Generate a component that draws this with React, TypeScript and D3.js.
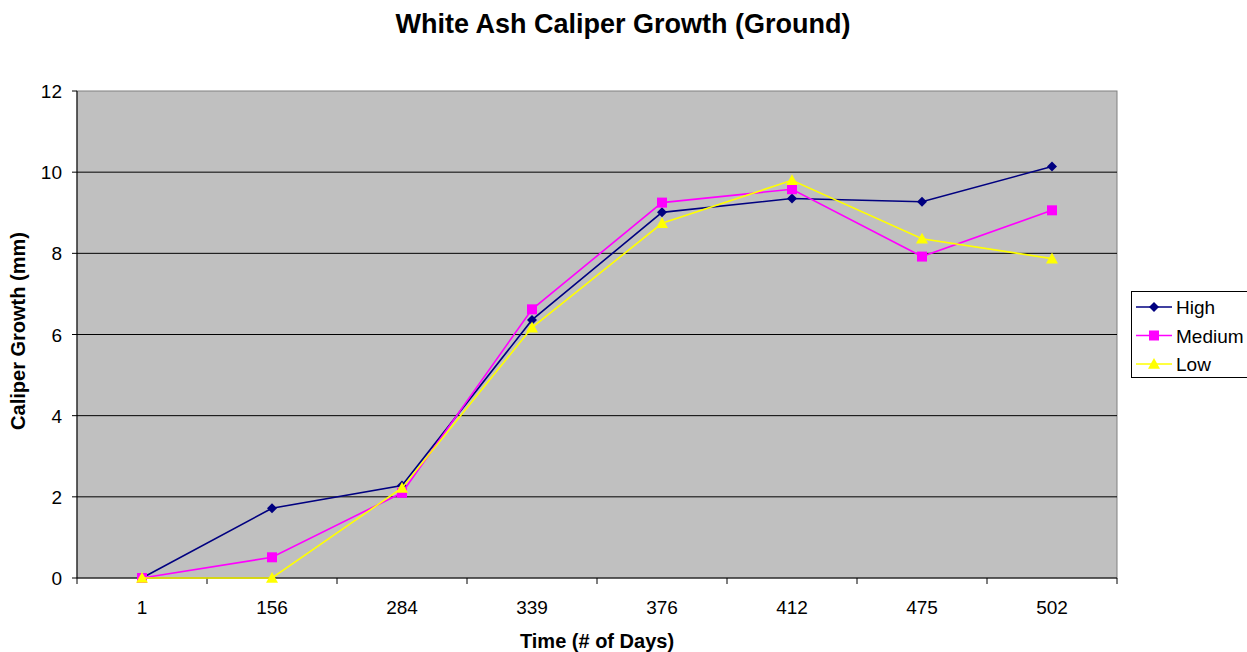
import React from "react";
import * as d3 from "d3";

const categories = ["1", "156", "284", "339", "376", "412", "475", "502"];
const highValues = [0, 1.72, 2.28, 6.36, 9.01, 9.35, 9.27, 10.14];
const mediumValues = [0, 0.51, 2.1, 6.62, 9.25, 9.58, 7.92, 9.06];
const lowValues = [0, 0, 2.22, 6.17, 8.74, 9.8, 8.36, 7.87];
const yTicks = [0, 2, 4, 6, 8, 10, 12];
const seriesNames = ["High", "Medium", "Low"];

const W = 1247, H = 652;
const left = 77, right = 1117, top = 91, bottom = 578;
const font = "'Liberation Sans', Arial, sans-serif";

function Marker({ type, x, y, color }: { type: string; x: number; y: number; color: string }) {
  if (type === "diamond") {
    const s = 5;
    return <path d={`M${x},${y - s}L${x + s},${y}L${x},${y + s}L${x - s},${y}Z`} fill={color} />;
  }
  if (type === "square") {
    const s = 5;
    return <rect x={x - s} y={y - s} width={2 * s} height={2 * s} fill={color} />;
  }
  const s = 6;
  return <path d={`M${x},${y - s}L${x + s},${y + s * 0.8}L${x - s},${y + s * 0.8}Z`} fill={color} />;
}

export default function App() {
  const x = d3.scaleBand<string>().domain(categories).range([left, right]);
  const y = d3.scaleLinear().domain([0, 12]).range([bottom, top]);
  const cx = (c: string) => (x(c) as number) + x.bandwidth() / 2;
  const series = [
    { name: seriesNames[0], values: highValues, color: "#000080", marker: "diamond" },
    { name: seriesNames[1], values: mediumValues, color: "#FF00FF", marker: "square" },
    { name: seriesNames[2], values: lowValues, color: "#FFFF00", marker: "triangle" },
  ];
  const line = d3.line<number>().x((_, i) => cx(categories[i])).y((d) => y(d));
  const boundaries = categories.map((c) => x(c) as number).concat([right]);

  return (
    <svg width={W} height={H} style={{ position: "absolute", left: 0, top: 0 }} fontFamily={font}>
      <rect x={0} y={0} width={W} height={H} fill="#fff" />
      <text x={623} y={33} textAnchor="middle" fontSize={27} fontWeight="bold">White Ash Caliper Growth (Ground)</text>
      <rect x={left} y={top} width={right - left} height={bottom - top} fill="#C0C0C0" stroke="#808080" strokeWidth={1} />
      {yTicks.map((t) => (
        <g key={t}>
          {t > 0 && t < 12 && <line x1={left} x2={right} y1={y(t)} y2={y(t)} stroke="#000" strokeWidth={1} />}
          <line x1={left - 5} x2={left} y1={y(t)} y2={y(t)} stroke="#000" />
          <text x={left - 15} y={y(t) + 7} textAnchor="end" fontSize={19}>{t}</text>
        </g>
      ))}
      <line x1={left} x2={left} y1={top} y2={bottom} stroke="#000" />
      <line x1={left} x2={right} y1={bottom} y2={bottom} stroke="#000" />
      {boundaries.map((b, i) => (
        <line key={i} x1={b} x2={b} y1={bottom} y2={bottom + 6} stroke="#000" />
      ))}
      {categories.map((c) => (
        <text key={c} x={cx(c)} y={614} textAnchor="middle" fontSize={19}>{c}</text>
      ))}
      <text x={597} y={648} textAnchor="middle" fontSize={20} fontWeight="bold">Time (# of Days)</text>
      <text transform={`translate(25,331) rotate(-90)`} textAnchor="middle" fontSize={20} fontWeight="bold">Caliper Growth (mm)</text>
      {series.map((s) => (
        <g key={s.name}>
          <path d={line(s.values) || ""} fill="none" stroke={s.color} strokeWidth={1.6} />
          {s.values.map((v, i) => (
            <Marker key={i} type={s.marker} x={cx(categories[i])} y={y(v)} color={s.color} />
          ))}
        </g>
      ))}
      <rect x={1131.5} y={291.5} width={130} height={86} fill="#fff" stroke="#000" />
      {series.map((s, i) => {
        const ly = 307 + i * 28.5;
        return (
          <g key={s.name}>
            <line x1={1136} x2={1172} y1={ly} y2={ly} stroke={s.color} strokeWidth={1.6} />
            <Marker type={s.marker} x={1154} y={ly} color={s.color} />
            <text x={1176} y={ly + 7} fontSize={19}>{s.name}</text>
          </g>
        );
      })}
    </svg>
  );
}
